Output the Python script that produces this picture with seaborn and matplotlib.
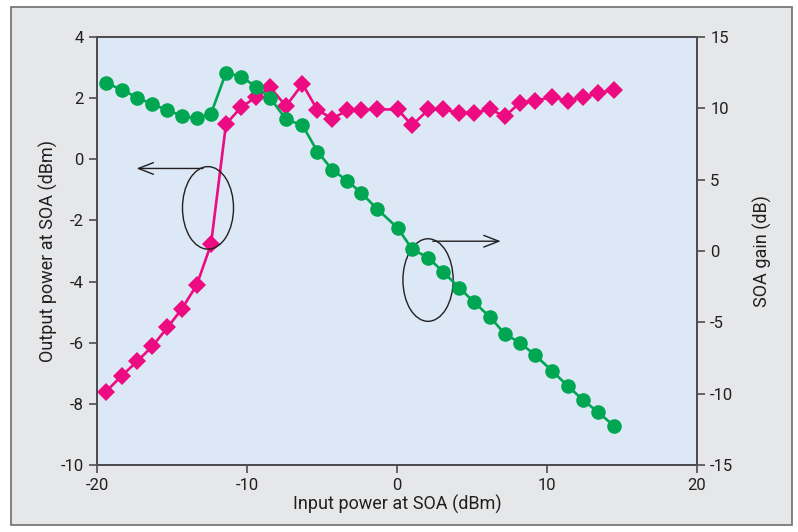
import matplotlib
matplotlib.use("Agg")
import matplotlib.pyplot as plt
import seaborn as sns
import pandas as pd
from matplotlib.patches import Ellipse, Rectangle

# Input power at SOA (dBm), shared by both curves
input_power = [-19.4, -18.35, -17.3, -16.3, -15.3, -14.35, -13.35, -12.4, -11.4, -10.4,
               -9.4, -8.45, -7.4, -6.3, -5.3, -4.3, -3.3, -2.4, -1.3, 0.05,
               1.0, 2.1, 3.1, 4.15, 5.15, 6.2, 7.2, 8.2, 9.2, 10.35,
               11.4, 12.4, 13.4, 14.45]

# Output power at SOA (dBm), left axis
output_power = [-7.6, -7.08, -6.6, -6.11, -5.5, -4.9, -4.11, -2.78, 1.15, 1.7,
                2.03, 2.35, 1.74, 2.46, 1.61, 1.33, 1.61, 1.61, 1.63, 1.63,
                1.11, 1.63, 1.63, 1.52, 1.52, 1.63, 1.41, 1.85, 1.92, 2.03,
                1.92, 2.03, 2.16, 2.27]

# SOA gain (dB), right axis
soa_gain = [11.8, 11.29, 10.75, 10.28, 9.88, 9.46, 9.3, 9.62, 12.5, 12.22,
            11.52, 10.72, 9.23, 8.81, 6.96, 5.68, 4.91, 4.09, 2.92, 1.61,
            0.14, -0.49, -1.49, -2.57, -3.6, -4.63, -5.82, -6.43, -7.29, -8.41,
            -9.48, -10.44, -11.3, -12.24]

df = pd.DataFrame({"input": input_power, "output": output_power, "gain": soa_gain})

sns.set_style("ticks")
plt.rcParams["font.family"] = ["Roboto", "DejaVu Sans"]
plt.rcParams["font.size"] = 12
plt.rcParams["axes.unicode_minus"] = False

magenta = "#ec0b80"
green = "#00a651"
text_col = "#231f20"
spine_col = "#4d4d4f"

fig = plt.figure(figsize=(7.98, 5.32), dpi=100)
fig.patch.set_facecolor("white")

# outer panel frame
frame = Rectangle((11 / 798, 1 - 525 / 532), 781 / 798, 518 / 532,
                  transform=fig.transFigure, facecolor="#e6e7e8",
                  edgecolor="#6d6e71", linewidth=1.2, zorder=-10)
fig.patches.append(frame)

ax = fig.add_axes([97 / 798, 1 - 465 / 532, 600 / 798, 428 / 532])
ax.set_facecolor("#dce8f5")
ax2 = ax.twinx()

sns.lineplot(data=df, x="input", y="output", ax=ax, color=magenta, marker="D",
             markersize=9, markeredgewidth=0, linewidth=1.9, zorder=3)
sns.lineplot(data=df, x="input", y="gain", ax=ax2, color=green, marker="o",
             markersize=10.5, markeredgewidth=0, linewidth=1.9, zorder=3)

ax.set_xlim(-20, 20)
ax.set_ylim(-10, 4)
ax2.set_ylim(-15, 15)
ax.set_xticks([-20, -10, 0, 10, 20])
ax.set_yticks([-10, -8, -6, -4, -2, 0, 2, 4])
ax2.set_yticks([-15, -10, -5, 0, 5, 10, 15])

ax.set_xlabel("Input power at SOA (dBm)", color=text_col, fontsize=13, labelpad=1)
ax.set_ylabel("Output power at SOA (dBm)", color=text_col, fontsize=13, labelpad=2)
ax2.set_ylabel("SOA gain (dB)", color=text_col, fontsize=13, labelpad=14)

for a in (ax, ax2):
    for s in a.spines.values():
        s.set_visible(True)
        s.set_color(spine_col)
        s.set_linewidth(1.4)
    a.tick_params(direction="out", length=6, width=1.2, color=spine_col,
                  labelcolor=text_col, labelsize=12)

# annotations: ellipses with arrows pointing to each axis
ax.add_patch(Ellipse((-12.6, -1.59), 3.4, 2.7, fill=False, edgecolor="#231f20",
                     linewidth=1.0, zorder=4))
ax.annotate("", xy=(-17.55, -0.3), xytext=(-12.75, -0.3),
            arrowprops=dict(arrowstyle="->,head_length=0.9,head_width=0.35",
                            color="#231f20", linewidth=1.0))
ax.add_patch(Ellipse((2.07, -3.95), 3.35, 2.7, fill=False, edgecolor="#231f20",
                     linewidth=1.0, zorder=4))
ax.annotate("", xy=(7.1, -2.68), xytext=(2.2, -2.68),
            arrowprops=dict(arrowstyle="->,head_length=0.9,head_width=0.35",
                            color="#231f20", linewidth=1.0))

fig.savefig("out.png", dpi=100)
